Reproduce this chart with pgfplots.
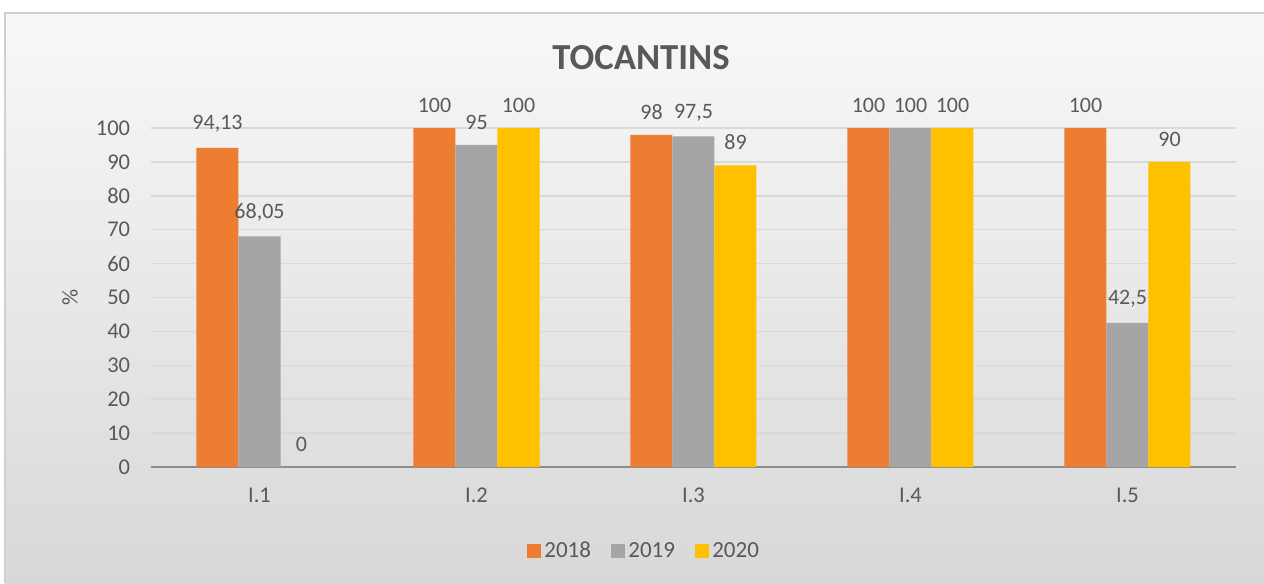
\documentclass[border=0pt]{standalone}
\usepackage{fontspec}
\setmainfont{Carlito}
\usepackage{pgfplots}
\pgfplotsset{compat=1.18}
\definecolor{c18}{HTML}{ED7D31}
\definecolor{c19}{HTML}{A5A5A5}
\definecolor{c20}{HTML}{FFC000}
\definecolor{txt}{HTML}{595959}
\definecolor{bgtop}{HTML}{F8F8F8}
\definecolor{bgbot}{HTML}{D8D8D8}
\definecolor{gridc}{HTML}{D9D9D9}
\definecolor{axc}{HTML}{8C8C8C}
\definecolor{bordc}{HTML}{D0D0D0}
\begin{document}
\begin{tikzpicture}[x=0.6pt,y=0.6pt]
\useasboundingbox (0,0) rectangle (1264,583);
\fill[white] (0,0) rectangle (1264,583);
\shade[top color=bgtop, bottom color=bgbot] (5,0) rectangle (1264,570);
\draw[bordc, line width=1.2pt] (5,0) -- (5,570) -- (1264,570);
\node[font=\bfseries\fontsize{22}{26}\selectfont, text=txt] at (641,525) {TOCANTINS};
\node[font=\fontsize{13.5}{16}\selectfont, text=txt, rotate=90] at (70,286) {\%};
\begin{axis}[
  at={(90.6pt,69.6pt)}, anchor=south west,
  width=651pt, height=203.4pt, scale only axis,
  xmin=-0.5, xmax=4.5, ymin=0, ymax=100,
  ytick={0,10,...,100},
  xtick={0,1,2,3,4},
  xticklabels={I.1,I.2,I.3,I.4,I.5},
  ybar=0pt, bar width=25.2pt,
  axis lines*=left,
  y axis line style={draw=none},
  x axis line style={draw=axc, line width=1.2pt},
  major tick length=0pt,
  ymajorgrids, grid style={gridc, line width=0.9pt},
  ticklabel style={font=\fontsize{13.5}{16}\selectfont, text=txt},
  yticklabel style={xshift=-9pt},
  xticklabel style={yshift=-9pt},
  /pgf/number format/assume math mode=true,
  nodes near coords={\pgfmathprintnumber[use comma, fixed, precision=2, assume math mode=true]{\pgfplotspointmeta}},
  nodes near coords style={font=\fontsize{13.2}{15}\selectfont, text=txt, anchor=south, inner sep=0pt, yshift=9pt},
  legend style={at={(0.455,-0.248)}, anchor=center, draw=none, fill=none,
    font=\fontsize{13.8}{16}\selectfont, text=txt, legend columns=3,
    /tikz/every even column/.append style={column sep=10pt}},
  legend image code/.code={\fill[#1,draw=none] (0pt,-4.2pt) rectangle (8.4pt,4.2pt);},
]
\addplot[fill=c18, draw=none] coordinates {(0,94.13) (1,100) (2,98) (3,100) (4,100)};
\addplot[fill=c19, draw=none] coordinates {(0,68.05) (1,95) (2,97.5) (3,100) (4,42.5)};
\addplot[fill=c20, draw=none] coordinates {(0,0) (1,100) (2,89) (3,100) (4,90)};
\legend{2018,2019,2020}
\end{axis}
\end{tikzpicture}
\end{document}
